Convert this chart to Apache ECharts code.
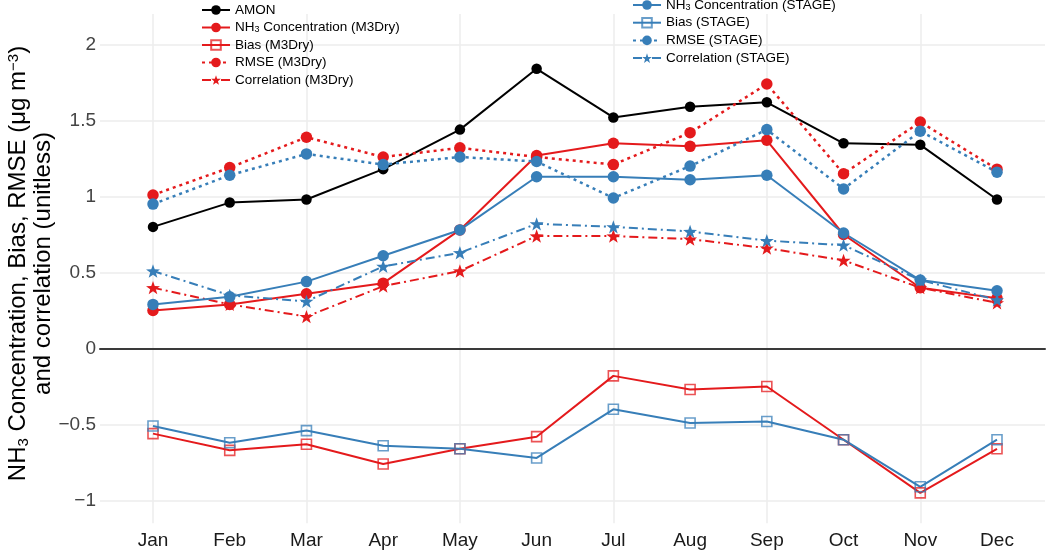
<!DOCTYPE html>
<html>
<head>
<meta charset="utf-8">
<script src="https://cdn.jsdelivr.net/npm/echarts@6/dist/echarts.min.js"></script>
<style>
html,body{margin:0;padding:0;background:#fff;}
#chart{width:1050px;height:551px;}
</style>
</head>
<body>
<div id="chart"></div>
<script>
// ---- data ----
const months = ['Jan','Feb','Mar','Apr','May','Jun','Jul','Aug','Sep','Oct','Nov','Dec'];
const yTicks = [-1, -0.5, 0, 0.5, 1, 1.5, 2];

const amon       = [0.80, 0.96, 0.98, 1.18, 1.44, 1.84, 1.52, 1.59, 1.62, 1.35, 1.34, 0.98];
const concM3Dry  = [0.25, 0.29, 0.36, 0.43, 0.78, 1.27, 1.35, 1.33, 1.37, 0.75, 0.40, 0.33];
const biasM3Dry  = [-0.56, -0.67, -0.63, -0.76, -0.66, -0.58, -0.18, -0.27, -0.25, -0.60, -0.95, -0.66];
const rmseM3Dry  = [1.01, 1.19, 1.39, 1.26, 1.32, 1.26, 1.21, 1.42, 1.74, 1.15, 1.49, 1.18];
const corrM3Dry  = [0.40, 0.29, 0.21, 0.41, 0.51, 0.74, 0.74, 0.72, 0.66, 0.58, 0.40, 0.30];
const concSTAGE  = [0.29, 0.34, 0.44, 0.61, 0.78, 1.13, 1.13, 1.11, 1.14, 0.76, 0.45, 0.38];
const biasSTAGE  = [-0.51, -0.62, -0.54, -0.64, -0.66, -0.72, -0.40, -0.49, -0.48, -0.60, -0.91, -0.60];
const rmseSTAGE  = [0.95, 1.14, 1.28, 1.21, 1.26, 1.23, 0.99, 1.20, 1.44, 1.05, 1.43, 1.16];
const corrSTAGE  = [0.51, 0.35, 0.31, 0.54, 0.63, 0.82, 0.80, 0.77, 0.71, 0.68, 0.45, 0.32];

// ---- styling ----
const RED = '#E41A1C', BLUE = '#377EB8', BLACK = '#000000';
const STAR = 'path://M0,-10 L2.35,-3.24 L9.51,-3.09 L3.8,1.24 L5.88,8.09 L0,4 L-5.88,8.09 L-3.8,1.24 L-9.51,-3.09 L-2.35,-3.24Z';
const FONT = '"Liberation Sans", Arial, sans-serif';

function conc(name, data, color) {
  return {name, type:'line', data, xAxisIndex:0, yAxisIndex:0, clip:false,
    symbol:'circle', symbolSize:11.5, color,
    itemStyle:{color}, lineStyle:{color, width:2, type:'solid'}};
}
function bias(name, data, color) {
  return {name, type:'line', data, xAxisIndex:0, yAxisIndex:0, clip:false,
    symbol:'rect', symbolSize:10, color,
    itemStyle:{color:'rgba(255,255,255,0)', borderColor:color, borderWidth:1.6, opacity:0.75},
    lineStyle:{color, width:2, type:'solid', opacity:1}};
}
function rmse(name, data, color) {
  return {name, type:'line', data, xAxisIndex:0, yAxisIndex:0, clip:false,
    symbol:'circle', symbolSize:11.5, color,
    itemStyle:{color}, lineStyle:{color, width:2.5, type:[3,4]}};
}
function corr(name, data, color) {
  return {name, type:'line', data, xAxisIndex:0, yAxisIndex:0, clip:false,
    symbol:STAR, symbolSize:14, symbolKeepAspect:true, color,
    itemStyle:{color}, lineStyle:{color, width:2, type:[9,4,2,4]}};
}

const legendFormatter = function(name){
  if (name.indexOf('NH3') === 0) return '{t|NH}{s|3}{t|' + name.slice(3) + '}';
  return '{t|' + name + '}';
};
const legendText = {fontSize:13.5, color:'#000', fontFamily:FONT, lineHeight:14,
  rich:{t:{fontSize:13.5, fontFamily:FONT, color:'#000', lineHeight:14},
        s:{fontSize:9, fontFamily:FONT, color:'#000', verticalAlign:'bottom', lineHeight:14}}};

const chart = echarts.init(document.getElementById('chart'), null, {renderer:'canvas'});
chart.setOption({
  animation:false,
  backgroundColor:'#fff',
  textStyle:{fontFamily:FONT},
  grid:[
    {left:153, width:844, top:14.1, height:509.2, containLabel:false, outerBoundsMode:'none'},
    {left:100, width:945, top:44.5, height:456, containLabel:false, outerBoundsMode:'none'}
  ],
  legend:[
    {orient:'vertical', left:201, top:3, itemWidth:28, itemHeight:12, itemGap:3.5, padding:0,
     data:['AMON','NH3 Concentration (M3Dry)','Bias (M3Dry)','RMSE (M3Dry)','Correlation (M3Dry)'],
     formatter:legendFormatter, textStyle:legendText},
    {orient:'vertical', left:632, top:-2, itemWidth:28, itemHeight:12, itemGap:3.7, padding:0,
     data:['NH3 Concentration (STAGE)','Bias (STAGE)','RMSE (STAGE)','Correlation (STAGE)'],
     formatter:legendFormatter, textStyle:legendText}
  ],
  xAxis:[
    {type:'category', gridIndex:0, data:months, boundaryGap:false,
     axisLine:{show:false}, axisTick:{show:false},
     axisLabel:{fontSize:19, color:'#1a1a1a', margin:8, fontFamily:FONT},
     splitLine:{show:true, interval:1, lineStyle:{color:'#ececec', width:1.5}}},
    {type:'category', gridIndex:1, data:months, boundaryGap:false,
     axisLine:{show:true, onZero:true, lineStyle:{color:'#3a3a3a', width:2}},
     axisTick:{show:false}, axisLabel:{show:false}, splitLine:{show:false}}
  ],
  yAxis:[
    {type:'value', gridIndex:0, min:-1.15, max:2.2,
     axisLine:{show:false}, axisTick:{show:false}, axisLabel:{show:false}, splitLine:{show:false}},
    {type:'value', gridIndex:1, min:yTicks[0], max:yTicks[yTicks.length-1], interval:0.5,
     axisLine:{show:false}, axisTick:{show:false},
     axisLabel:{fontSize:19, color:'#444', margin:4, fontFamily:FONT,
       formatter:function(v){ return (v < 0 ? '\u2212' + String(-v) : String(v)); }},
     splitLine:{show:true, lineStyle:{color:'#ececec', width:1.5}},
     name:'{t|NH}{sub|3}{t| Concentration, Bias, RMSE (μg m}{sup|\u22123}{t|)}\n{t|and correlation (unitless)}',
     nameLocation:'middle', nameGap:44, nameMoveOverlap:false,
     nameTextStyle:{fontSize:24, color:'#000', fontFamily:FONT, lineHeight:25, padding:[0,0,0,18],
       rich:{t:{fontSize:24, fontFamily:FONT, color:'#000', lineHeight:25},
             sub:{fontSize:15, fontFamily:FONT, color:'#000', lineHeight:25, verticalAlign:'bottom'},
             sup:{fontSize:15, fontFamily:FONT, color:'#000', lineHeight:25, verticalAlign:'top'}}}}
  ],
  series:[
    {name:'AMON', type:'line', data:amon, xAxisIndex:0, yAxisIndex:0, clip:false,
     symbol:'circle', symbolSize:10.5, color:BLACK, itemStyle:{color:BLACK}, lineStyle:{color:BLACK, width:2}},
    conc('NH3 Concentration (M3Dry)', concM3Dry, RED),
    bias('Bias (M3Dry)', biasM3Dry, RED),
    rmse('RMSE (M3Dry)', rmseM3Dry, RED),
    corr('Correlation (M3Dry)', corrM3Dry, RED),
    conc('NH3 Concentration (STAGE)', concSTAGE, BLUE),
    bias('Bias (STAGE)', biasSTAGE, BLUE),
    rmse('RMSE (STAGE)', rmseSTAGE, BLUE),
    corr('Correlation (STAGE)', corrSTAGE, BLUE)
  ]
});
</script>
</body>
</html>
